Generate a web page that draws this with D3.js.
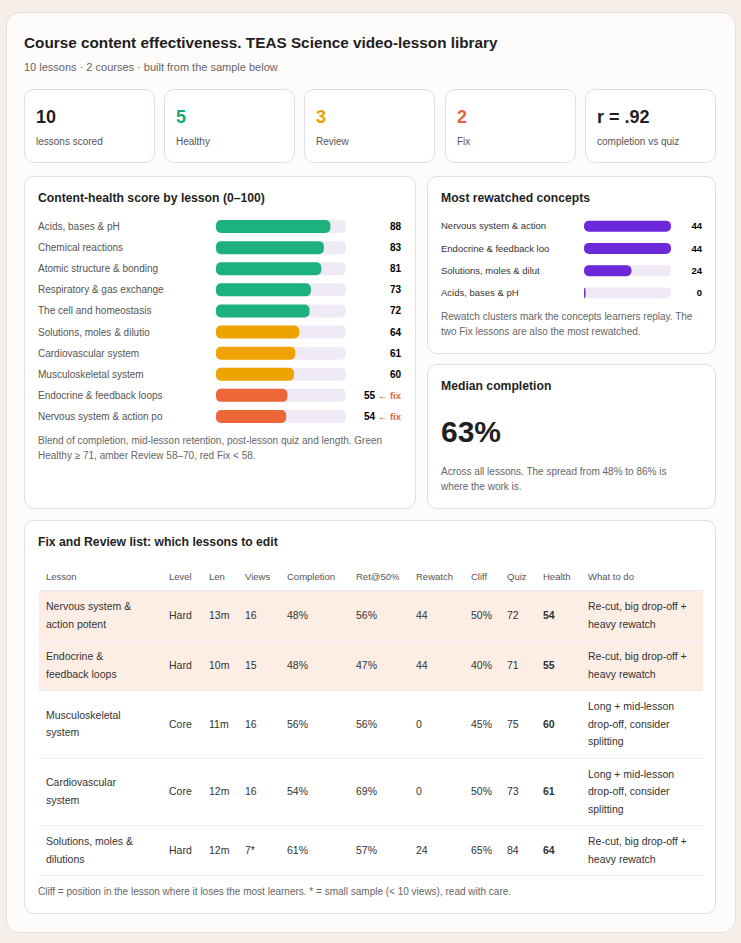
<!DOCTYPE html>
<html><head><meta charset="utf-8">
<script src="https://cdn.jsdelivr.net/npm/d3@7"></script>
<style>
body{margin:0;background:#f6eee9;font-family:"Liberation Sans",Arial,sans-serif;color:#1f1f1f;}
.outer{position:absolute;left:6px;top:12px;width:728px;height:919px;background:#fdfcfb;border:1px solid #e8dedb;border-radius:14px;}
.card{position:absolute;background:#fff;border:1px solid #e3dde3;border-radius:10px;box-sizing:border-box;}
.abs{position:absolute;}
h1{position:absolute;margin:0;font-size:15.3px;font-weight:bold;left:24px;top:34px;}
.sub{left:24px;top:61px;font-size:11px;color:#666;}
.kv{position:absolute;left:11px;top:17px;font-size:18px;font-weight:bold;}
.kl{position:absolute;left:11px;top:46px;font-size:10px;color:#555;}
.ct{position:absolute;left:13px;top:14px;font-size:12.2px;font-weight:bold;}
.note{font-size:10px;color:#666;line-height:15px;}
table{border-collapse:collapse;font-size:10.5px;color:#333;table-layout:fixed;}
th{font-weight:normal;color:#555;font-size:9.5px;text-align:left;height:28px;padding:0 0 0 7px;border-bottom:1.5px solid #ebe5ef;}
td{padding:7px 0 7px 7px;line-height:17.5px;border-bottom:1px solid #efebf0;vertical-align:middle;}
tr.hl td{background:#fdeee5;}
</style></head><body>
<div class="outer"></div>
<h1>Course content effectiveness. TEAS Science video-lesson library</h1>
<div class="abs sub">10 lessons · 2 courses · built from the sample below</div>
<div id="kpis"></div>
<div class="card" style="left:24px;top:176px;width:392px;height:333px"><div class="ct">Content-health score by lesson (0–100)</div>
<svg id="health" class="abs" style="left:0;top:0" width="392" height="260"></svg>
<div class="abs note" style="left:13px;top:256px;width:370px">Blend of completion, mid-lesson retention, post-lesson quiz and length. Green Healthy ≥ 71, amber Review 58–70, red Fix &lt; 58.</div></div>
<div class="card" style="left:427px;top:176px;width:289px;height:178px"><div class="ct">Most rewatched concepts</div>
<svg id="rew" class="abs" style="left:0;top:0" width="289" height="130"></svg>
<div class="abs note" style="left:13px;top:132px;width:265px">Rewatch clusters mark the concepts learners replay. The two Fix lessons are also the most rewatched.</div></div>
<div class="card" style="left:427px;top:364px;width:289px;height:145px"><div class="ct">Median completion</div>
<div class="abs" style="left:13px;top:50px;font-size:30px;font-weight:bold">63%</div>
<div class="abs note" style="left:13px;top:99px;width:250px">Across all lessons. The spread from 48% to 86% is where the work is.</div></div>
<div class="card" style="left:24px;top:520px;width:692px;height:394px"><div class="ct">Fix and Review list: which lessons to edit</div>
<table id="tbl" class="abs" style="left:14px;top:41px;width:664px"></table>
<div class="abs note" style="left:13px;top:363px">Cliff = position in the lesson where it loses the most learners. * = small sample (&lt; 10 views), read with care.</div></div>
<script>
const kpiValues=["10","5","3","2","r = .92"];
const kpiLabels=["lessons scored","Healthy","Review","Fix","completion vs quiz"];
const kpiColors=["#1f1f1f","#1aa87a","#e8a200","#e8643a","#1f1f1f"];
const lessons=["Acids, bases & pH","Chemical reactions","Atomic structure & bonding","Respiratory & gas exchange","The cell and homeostasis","Solutions, moles & dilutio","Cardiovascular system","Musculoskeletal system","Endocrine & feedback loops","Nervous system & action po"];
const health=[88,83,81,73,72,64,61,60,55,54];
const concepts=["Nervous system & action","Endocrine & feedback loo","Solutions, moles & dilut","Acids, bases & pH"];
const rewatch=[44,44,24,0];
const cols=["Lesson","Level","Len","Views","Completion","Ret@50%","Rewatch","Cliff","Quiz","Health","What to do"];
const tLesson=["Nervous system & action potent","Endocrine & feedback loops","Musculoskeletal system","Cardiovascular system","Solutions, moles & dilutions"];
const tLevel=["Hard","Hard","Core","Core","Hard"];
const tLen=["13m","10m","11m","12m","12m"];
const tViews=["16","15","16","16","7*"];
const tComp=["48%","48%","56%","54%","61%"];
const tRet=["56%","47%","56%","69%","57%"];
const tRew=["44","44","0","0","24"];
const tCliff=["50%","40%","45%","50%","65%"];
const tQuiz=["72","71","75","73","84"];
const tHealth=[54,55,60,61,64];
const tTodo=["Re-cut, big drop-off + heavy rewatch","Re-cut, big drop-off + heavy rewatch","Long + mid-lesson drop-off, consider splitting","Long + mid-lesson drop-off, consider splitting","Re-cut, big drop-off + heavy rewatch"];
const kx=[24,164,304,445,585];
d3.select("#kpis").selectAll("div").data(kpiValues).join("div").attr("class","card")
 .style("left",(d,i)=>kx[i]+"px").style("top","89px").style("width","131px").style("height","74px")
 .html((d,i)=>`<div class="kv" style="color:${kpiColors[i]}">${d}</div><div class="kl">${kpiLabels[i]}</div>`);
const col=v=>v>=71?"#1db27d":v>=58?"#eea300":"#ec6637";
{const s=d3.select("#health");const x=d3.scaleLinear([0,100],[0,130]);const y=d3.scaleBand(lessons,[39,250]);
const g=s.selectAll("g").data(lessons).join("g").attr("transform",d=>`translate(0,${y(d)+y.bandwidth()/2})`);
g.append("text").attr("x",13).attr("dy","0.35em").attr("font-size",10).attr("fill","#555").text(d=>d);
g.append("rect").attr("x",191).attr("y",-6.5).attr("height",13).attr("rx",5).attr("width",130).attr("fill","#efeaf6");
g.append("rect").attr("x",191).attr("y",-6.5).attr("height",13).attr("rx",5).attr("width",(d,i)=>x(health[i])).attr("fill",(d,i)=>col(health[i]));
g.append("text").attr("x",376).attr("dy","0.35em").attr("text-anchor","end").attr("font-size",10).attr("font-weight","bold")
 .html((d,i)=>health[i]<58?`${health[i]}<tspan fill="#e8643a" font-size="9.5"> ← fix</tspan>`:health[i]);}
{const s=d3.select("#rew");const x=d3.scaleLinear([0,44],[0,87]);const y=d3.scaleBand(concepts,[39,128]);
const g=s.selectAll("g").data(concepts).join("g").attr("transform",d=>`translate(0,${y(d)+y.bandwidth()/2 - 1})`);
g.append("text").attr("x",13).attr("dy","0.35em").attr("font-size",9.5).attr("fill","#333").text(d=>d);
g.append("rect").attr("x",156).attr("y",-5.5).attr("height",11).attr("rx",5).attr("width",87).attr("fill","#efeaf6");
g.append("rect").attr("x",156).attr("y",-5.5).attr("height",11).attr("rx",5).attr("width",(d,i)=>Math.max(x(rewatch[i]),1.5)).attr("fill","#6d28d9");
g.append("text").attr("x",274).attr("dy","0.35em").attr("text-anchor","end").attr("font-size",9.5).attr("font-weight","bold").text((d,i)=>rewatch[i]);}
{const t=d3.select("#tbl");const w=[123,40,36,42,69,60,55,36,36,45,122];
t.append("colgroup").selectAll("col").data(w).join("col").style("width",d=>d+"px");
t.append("tr").selectAll("th").data(cols).join("th").text(d=>d);
const rows=tLesson.map((l,i)=>[l,tLevel[i],tLen[i],tViews[i],tComp[i],tRet[i],tRew[i],tCliff[i],tQuiz[i],tHealth[i],tTodo[i]]);
t.selectAll("tr.r").data(rows).join("tr").attr("class",(d,i)=>"r"+(tHealth[i]<58?" hl":""))
 .selectAll("td").data(d=>d).join("td").style("font-weight",(d,j)=>j==9?"bold":null).style("padding-right",(d,j)=>j==0?"24px":j==10?"8px":"0").text(d=>d);}
</script></body></html>
